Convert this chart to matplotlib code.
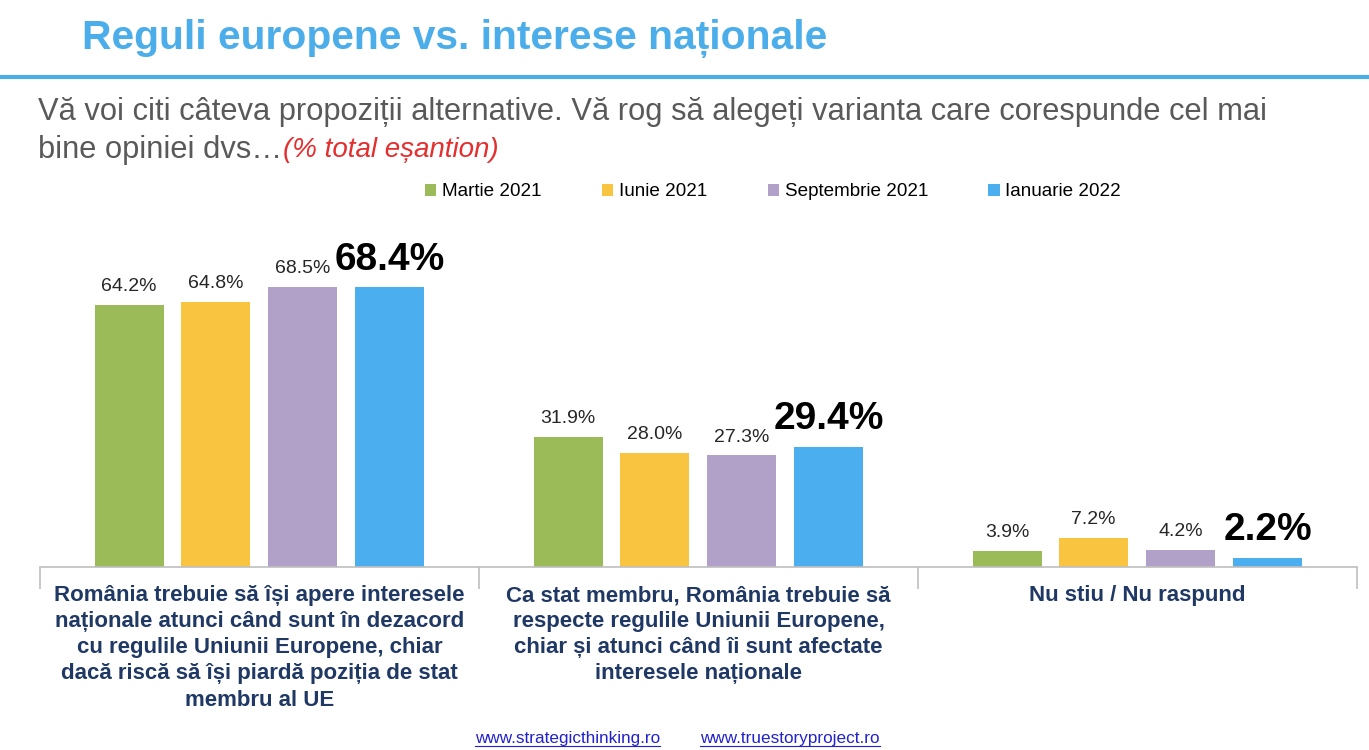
import numpy as np
import matplotlib.pyplot as plt

plt.rcParams['font.family'] = ['Liberation Sans', 'DejaVu Sans']

# Data
categories = [
    'România trebuie să își apere interesele\nnaționale atunci când sunt în dezacord\ncu regulile Uniunii Europene, chiar\ndacă riscă să își piardă poziția de stat\nmembru al UE',
    'Ca stat membru, România trebuie să\nrespecte regulile Uniunii Europene,\nchiar și atunci când îi sunt afectate\ninteresele naționale',
    'Nu stiu / Nu raspund',
]
series_names = ['Martie 2021', 'Iunie 2021', 'Septembrie 2021', 'Ianuarie 2022']
martie_2021 = [64.2, 31.9, 3.9]
iunie_2021 = [64.8, 28.0, 7.2]
septembrie_2021 = [68.5, 27.3, 4.2]
ianuarie_2022 = [68.4, 29.4, 2.2]
series_values = [martie_2021, iunie_2021, septembrie_2021, ianuarie_2022]
colors = ['#9BBB59', '#F9C540', '#B1A0C7', '#4BAEEE']

fig = plt.figure(figsize=(13.69, 7.5), dpi=100)

# Header
fig.text(82 / 1369, 1 - 38 / 750, 'Reguli europene vs. interese naționale',
         fontsize=29.3, fontweight='bold', color='#4BAEEA', va='center', ha='left')
fig.add_artist(plt.Line2D([0, 1], [1 - 77 / 750, 1 - 77 / 750], color='#4BAEEA', lw=3))
fig.text(38 / 1369, 1 - 112 / 750,
         'Vă voi citi câteva propoziții alternative. Vă rog să alegeți varianta care corespunde cel mai',
         fontsize=22.2, color='#595959', va='center', ha='left')
t2 = fig.text(38 / 1369, 1 - 150 / 750, 'bine opiniei dvs…',
              fontsize=22.2, color='#595959', va='center', ha='left')
fig.canvas.draw()
bb = t2.get_window_extent()
fig.text(bb.x1 / 1369 + 0.001, 1 - 150 / 750, '(% total eșantion)',
         fontsize=20, color='#E52E2E', style='italic', va='center', ha='left')

# Chart
ax = fig.add_axes([40 / 1369, 1 - 567 / 750, 1317 / 1369, 327 / 750])
x = np.arange(len(categories))
offsets = [-0.297, -0.1, 0.098, 0.296]
width = 0.157
for i, (name, vals, col) in enumerate(zip(series_names, series_values, colors)):
    bars = ax.bar(x + offsets[i], vals, width, color=col, label=name, zorder=2)
    last = i == len(series_names) - 1
    for b, v in zip(bars, vals):
        ax.annotate(f'{v:.1f}%', (b.get_x() + b.get_width() / 2, v),
                    xytext=(0, 7), textcoords='offset points',
                    ha='center', va='bottom',
                    fontsize=28 if last else 14,
                    fontweight='bold' if last else 'normal',
                    color='black' if last else '#262626')

ax.set_xlim(-0.5, 2.5)
ax.set_ylim(0, 80)
for s in ['top', 'right', 'left']:
    ax.spines[s].set_visible(False)
ax.spines['bottom'].set_color('#BFBFBF')
ax.spines['bottom'].set_linewidth(1.2)
ax.set_yticks([])
ax.set_xticks([-0.5, 0.5, 1.5, 2.5])
ax.set_xticklabels([])
ax.tick_params(axis='x', which='major', length=16, color='#BFBFBF', width=1.2)
ax.set_xticks(x, minor=True)
ax.set_xticklabels(categories, minor=True, fontsize=16, fontweight='bold',
                   color='#1F3864', linespacing=1.32, va='top')
ax.tick_params(axis='x', which='minor', length=0, pad=13)

leg = fig.legend(loc='center', bbox_to_anchor=(773 / 1369, 1 - 192 / 750), ncol=4,
                 frameon=False, fontsize=13.6, handlelength=0.6, handleheight=0.6,
                 handletextpad=0.3, columnspacing=3.2)

# Footer links
for txt, xp in [('www.strategicthinking.ro', 475), ('www.truestoryproject.ro', 700)]:
    t = fig.text(xp / 1369, 1 - 739 / 750, txt, fontsize=12.3, color='#2222CC',
                 ha='left', va='center')
    fig.canvas.draw()
    e = t.get_window_extent()
    fig.add_artist(plt.Line2D([e.x0 / 1369, e.x1 / 1369], [(e.y0 + 1) / 750, (e.y0 + 1) / 750],
                              color='#2222CC', lw=0.8))

fig.savefig('out.png', dpi=100)
